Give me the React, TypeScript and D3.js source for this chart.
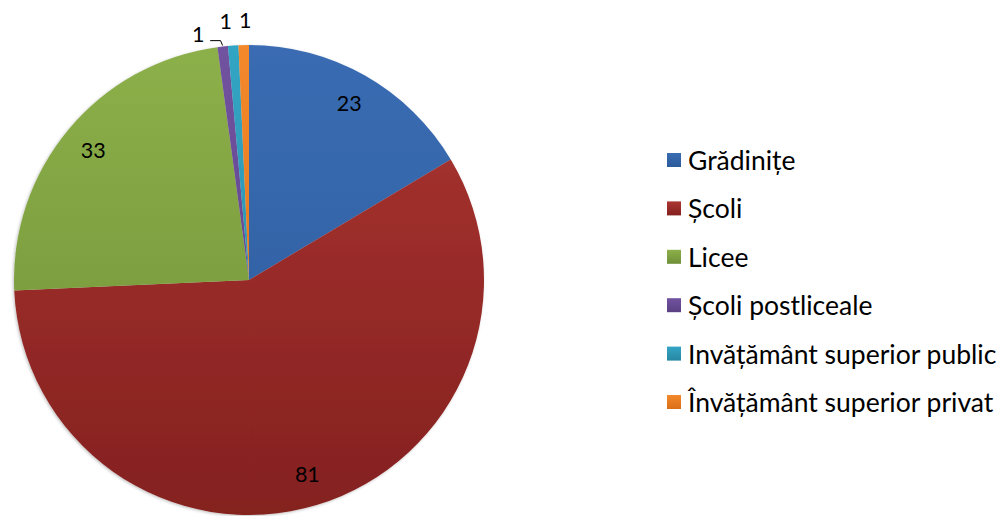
import React, { useMemo } from "react";
import * as d3 from "d3";

const categories = [
  "Grădinițe",
  "Școli",
  "Licee",
  "Școli postliceale",
  "Invățământ superior public",
  "Învățământ superior privat",
];
const values = [23, 81, 33, 1, 1, 1];
const colorsTop = ["#3a6cb3", "#ab3532", "#8cb049", "#7152a0", "#33a5c4", "#f3892b"];
const colorsBottom = ["#2c5b9b", "#84211f", "#708f38", "#5b4182", "#2787a2", "#d96e17"];

const W = 1003;
const H = 516;
const CX = 249;
const CY = 280;
const R = 235;
const FONT = "Lato, 'Open Sans', 'Liberation Sans', sans-serif";

export default function App() {
  const arcs = useMemo(() => {
    const pie = d3.pie<number>().sort(null).value((d) => d);
    return pie(values);
  }, []);
  const arcGen = d3.arc<d3.PieArcDatum<number>>().innerRadius(0).outerRadius(R);
  const labelArc = d3.arc<d3.PieArcDatum<number>>().innerRadius(203).outerRadius(203);
  const outerArc = d3.arc<d3.PieArcDatum<number>>().innerRadius(260).outerRadius(260);

  const total = d3.sum(values);
  // small slices get outside labels with collision shifting
  const small = arcs.map((a, i) => ({ a, i })).filter(({ a }) => a.value / total < 0.03);
  const placed: { i: number; x: number; y: number; leader: boolean; ex: number; ey: number }[] = [];
  let prevX = Infinity;
  for (let k = small.length - 1; k >= 0; k--) {
    const { a, i } = small[k];
    const [cx, cy] = outerArc.centroid(a);
    let x = cx + 2;
    if (x > prevX - 19.5) x = prevX - 19.5;
    const shifted = cx - x > 12;
    let y = cy;
    if (shifted) {
      x -= 8;
      y += 12;
    }
    const mid = (a.startAngle + a.endAngle) / 2;
    placed.push({ i, x, y, leader: shifted, ex: Math.sin(mid) * (R + 1), ey: -Math.cos(mid) * (R + 1) });
    prevX = x;
  }

  const legendY0 = 160;
  const legendStep = 48.4;

  return (
    <svg width={W} height={H} style={{ position: "absolute", left: 0, top: 0, background: "#fff" }}>
      <defs>
        {colorsTop.map((c, i) => (
          <linearGradient key={i} id={`g${i}`} gradientUnits="userSpaceOnUse" x1={0} y1={-R} x2={0} y2={R}>
            <stop offset="0%" stopColor={c} />
            <stop offset="100%" stopColor={colorsBottom[i]} />
          </linearGradient>
        ))}
        {colorsTop.map((c, i) => (
          <linearGradient key={"l" + i} id={`lg${i}`} x1={0} y1={0} x2={0} y2={1}>
            <stop offset="0%" stopColor={c} />
            <stop offset="100%" stopColor={colorsBottom[i]} />
          </linearGradient>
        ))}
        <filter id="sh" x="-10%" y="-10%" width="120%" height="120%">
          <feDropShadow dx={-1} dy={1} stdDeviation={1.5} floodColor="#000" floodOpacity={0.25} />
        </filter>
      </defs>
      <g transform={`translate(${CX},${CY})`}>
        <g filter="url(#sh)">
          {arcs.map((a, i) => (
            <path key={i} d={arcGen(a) || ""} fill={`url(#g${i})`} />
          ))}
        </g>
        {arcs.map((a, i) => {
          if (a.value / total < 0.03) return null;
          const [x, y] = labelArc.centroid(a);
          return (
            <text key={i} x={x} y={y} textAnchor="middle" dominantBaseline="central" fontFamily={FONT} fontSize={21.5} fill="#000">
              {values[i]}
            </text>
          );
        })}
        {placed.map((p) => (
          <g key={p.i}>
            <text x={p.x} y={p.y} textAnchor="middle" dominantBaseline="central" fontFamily={FONT} fontSize={21.5} fill="#000">
              {values[p.i]}
            </text>
            {p.leader && (
              <polyline
                points={`${p.x + 12},${p.y + 7} ${p.ex - 2},${p.y + 7} ${p.ex},${p.ey}`}
                fill="none"
                stroke="#000"
                strokeWidth={1}
              />
            )}
          </g>
        ))}
      </g>
      <g transform="translate(667,0)">
        {categories.map((c, i) => {
          const y = legendY0 + i * legendStep;
          return (
            <g key={c} transform={`translate(0,${y})`}>
              <rect x={0} y={-7} width={14} height={14} fill={`url(#lg${i})`} />
              <text x={21} y={0} dominantBaseline="central" fontFamily={FONT} fontSize={26.5} fill="#000">
                {c}
              </text>
            </g>
          );
        })}
      </g>
    </svg>
  );
}
